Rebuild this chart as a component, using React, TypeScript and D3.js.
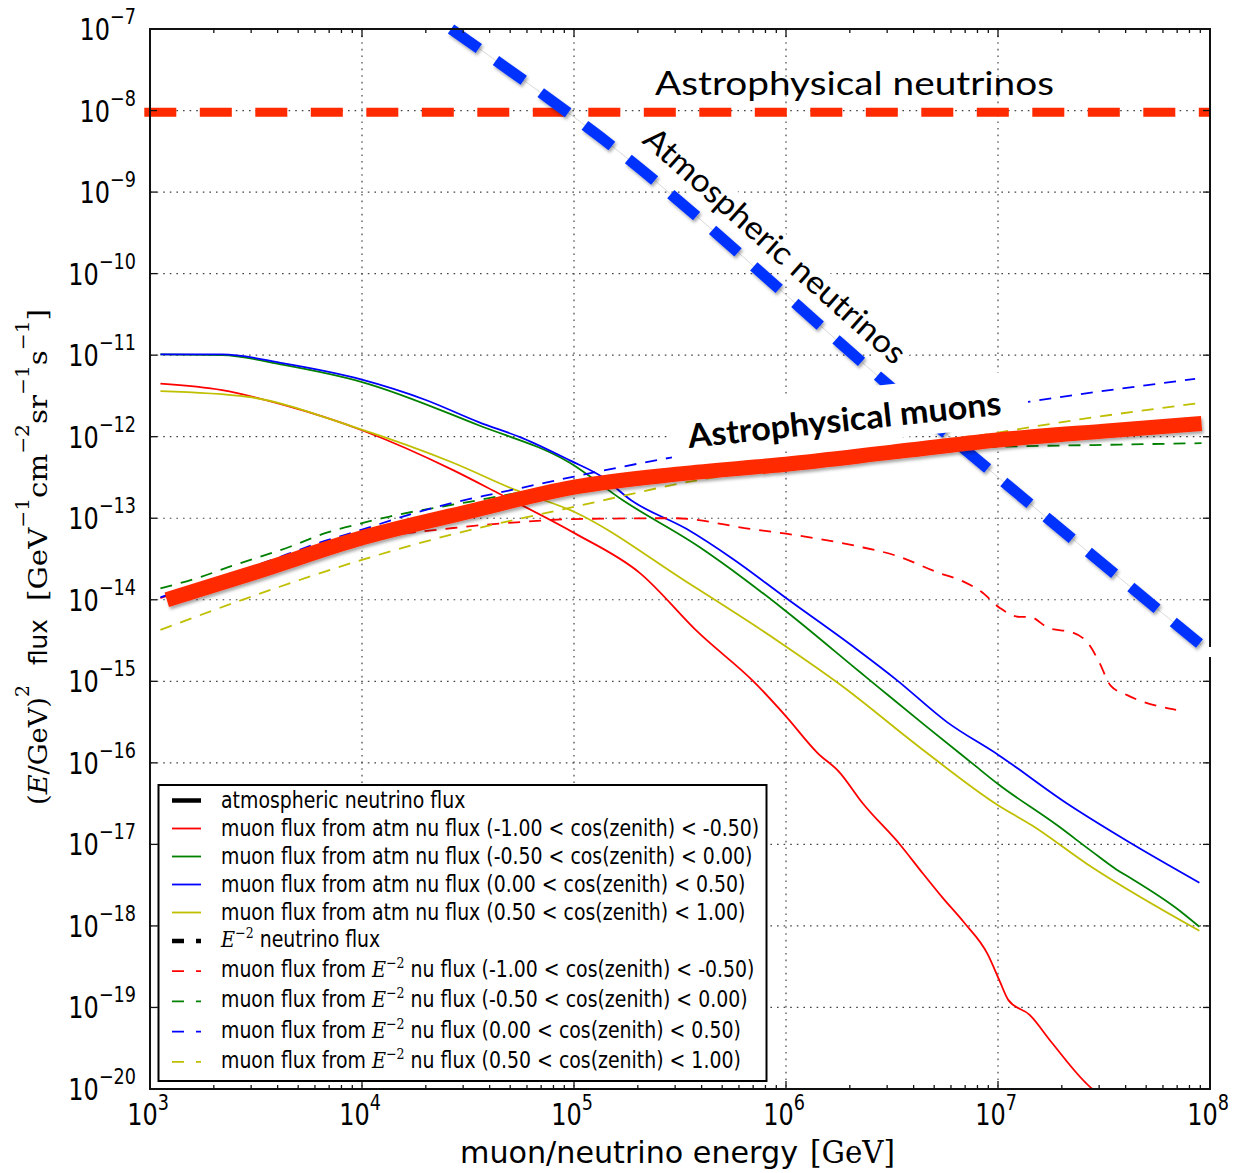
import React from "react";
import * as d3 from "d3";

type Pt = [number, number];

// energy [GeV], E^2 flux
const atmNu: Pt[] = [[2.63e4, 1e-7], [1.33e5, 4.74e-9], [3.45e6, 3.25e-12], [9.08e7, 2.79e-15]];
const astroNu: Pt[] = [[9.4e2, 9.5e-9], [1e8, 9.5e-9]];
const astroMu: Pt[] = [
  [1.2e3, 1e-14], [3.16e3, 2.19e-14], [1e4, 5.75e-14], [3.16e4, 1.2e-13], [1e5, 2.4e-13],
  [3.16e5, 3.5e-13], [1e6, 4.6e-13], [3.16e6, 6.46e-13], [1e7, 9.12e-13], [3.16e7, 1.17e-12], [9.12e7, 1.45e-12],
];

const atmMuRed: Pt[] = [
  [1.12e3, 4.47e-12], [2.19e3, 3.72e-12], [4.27e3, 2.45e-12], [1e4, 1.2e-12], [2.69e4, 3.89e-13],
  [4.37e4, 2.04e-13], [1e5, 6.61e-14], [2.04e5, 2.14e-14], [3.89e5, 3.89e-15], [7.08e5, 9.77e-16],
  [1e6, 3.72e-16], [1.41e6, 1.32e-16], [1.78e6, 7.76e-17], [2.29e6, 3.24e-17], [3.47e6, 9.77e-18],
  [4.37e6, 4.57e-18], [5.5e6, 2.19e-18], [6.92e6, 1.1e-18], [8.91e6, 4.57e-19], [1.02e7, 2.09e-19],
  [1.12e7, 1.23e-19], [1.41e7, 8.13e-20], [1.78e7, 3.8e-20], [2.82e7, 9.77e-21], [3.16e7, 8e-21],
];
const atmMuGreen: Pt[] = [
  [1.12e3, 1.02e-11], [2.19e3, 1e-11], [4.27e3, 7.59e-12], [1e4, 4.68e-12], [3.55e4, 1.38e-12],
  [9.55e4, 4.79e-13], [1.7e5, 1.66e-13], [3.89e5, 4.47e-14], [6.46e5, 1.74e-14], [1e6, 7.24e-15],
  [2.24e6, 1.29e-15], [2.75e6, 8.32e-16], [4.57e6, 2.82e-16], [7.59e6, 9.77e-17], [1e7, 5.5e-17],
  [1.91e7, 1.7e-17], [2.75e7, 8.32e-18], [3.63e7, 4.9e-18], [4.27e7, 3.8e-18], [6.92e7, 1.66e-18], [8.91e7, 9.77e-19],
];
const atmMuBlue: Pt[] = [
  [1.12e3, 1.02e-11], [2.19e3, 1.02e-11], [4.27e3, 7.94e-12], [1e4, 5.01e-12], [2e4, 2.82e-12],
  [3.55e4, 1.51e-12], [5.75e4, 9.55e-13], [9.55e4, 5.13e-13], [1.35e5, 3.24e-13], [1.86e5, 1.66e-13],
  [3.39e5, 7.41e-14], [5.62e5, 3.16e-14], [1e6, 1.05e-14], [2.14e6, 2.51e-15], [3.31e6, 1.05e-15],
  [5.75e6, 3.16e-16], [1e7, 1.26e-16], [2.09e7, 3.24e-17], [4.07e7, 1.1e-17], [8.91e7, 3.39e-18],
];
const atmMuYellow: Pt[] = [
  [1.12e3, 3.63e-12], [2.88e3, 3.09e-12], [9.12e3, 1.32e-12], [2.69e4, 4.79e-13], [5.25e4, 2.24e-13],
  [1e5, 1.2e-13], [3.39e5, 1.66e-14], [9.33e5, 3.02e-15], [1.78e6, 9.33e-16], [4.37e6, 1.48e-16],
  [1e7, 3.02e-17], [1.45e7, 1.7e-17], [2.63e7, 5.75e-18], [8.91e7, 8.71e-19],
];

const e2MuRed: Pt[] = [
  [1.12e3, 1.05e-14], [3.16e3, 2.4e-14], [1e4, 5.37e-14], [2.69e4, 7.59e-14], [5.37e4, 8.91e-14],
  [1e5, 9.77e-14], [2.95e5, 1e-13], [6.76e5, 7.41e-14], [1e6, 6.46e-14], [2.14e6, 4.57e-14],
  [3.31e6, 3.47e-14], [5.25e6, 2.14e-14], [6.92e6, 1.66e-14], [8.32e6, 1.26e-14], [1.02e7, 7.94e-15],
  [1.26e7, 6.17e-15], [1.41e7, 6.17e-15], [1.74e7, 4.47e-15], [2.24e7, 3.98e-15], [2.69e7, 2.82e-15],
  [3.02e7, 1.66e-15], [3.39e7, 8.91e-16], [4.07e7, 6.76e-16], [6.92e7, 4.47e-16],
];
const e2MuGreen: Pt[] = [
  [1.12e3, 1.38e-14], [1.74e3, 1.91e-14], [2.34e3, 2.51e-14], [4.57e3, 4.47e-14], [6.76e3, 6.61e-14],
  [1e4, 8.71e-14], [1.35e4, 1.05e-13], [3.16e4, 1.58e-13], [1e5, 2.69e-13], [3.16e5, 3.8e-13],
  [1e6, 5.13e-13], [3.16e6, 6.31e-13], [6.46e6, 7.24e-13], [3.16e7, 7.94e-13], [9.12e7, 8.32e-13],
];
const e2MuBlue: Pt[] = [
  [1.12e3, 1.07e-14], [1.82e3, 1.66e-14], [3.24e3, 2.69e-14], [6.31e3, 5.01e-14], [1e4, 7.24e-14],
  [1.66e4, 1.1e-13], [2.69e4, 1.55e-13], [4.37e4, 2.04e-13], [1e5, 3.24e-13], [2.82e5, 5.5e-13],
  [1e6, 9.12e-13], [3.16e6, 1.48e-12], [1e7, 2.34e-12], [1.41e7, 2.69e-12], [8.51e7, 5.13e-12],
];
const e2MuYellow: Pt[] = [
  [1.12e3, 4.27e-15], [2.88e3, 1.05e-14], [1e4, 3.09e-14], [2.95e4, 6.76e-14], [5.25e4, 9.55e-14],
  [1e5, 1.38e-13], [3.89e5, 2.95e-13], [9.77e5, 4.27e-13], [3.16e6, 7.08e-13], [1e7, 1.12e-12],
  [1.45e7, 1.32e-12], [8.71e7, 2.57e-12],
];

const xExponents = [3, 4, 5, 6, 7, 8];
const yExponents = [-7, -8, -9, -10, -11, -12, -13, -14, -15, -16, -17, -18, -19, -20];

const cosBins = [
  "(-1.00 < cos(zenith) < -0.50)",
  "(-0.50 < cos(zenith) < 0.00)",
  "(0.00 < cos(zenith) < 0.50)",
  "(0.50 < cos(zenith) < 1.00)",
];
const binColors = ["#ff0000", "#008000", "#0000ff", "#bfbf00"];
const atmSeries = [atmMuRed, atmMuGreen, atmMuBlue, atmMuYellow];
const e2Series = [e2MuRed, e2MuGreen, e2MuBlue, e2MuYellow];

const W = 1236;
const H = 1173;
const M = { top: 29, right: 26, bottom: 84, left: 150 };
const SANS = "DejaVu Sans";
const SERIF = "DejaVu Serif";
const CAL = "Lato, 'Open Sans', sans-serif";
const MINUS = "\u2212";

export default function App() {
  const x = d3.scaleLog().domain([1e3, 1e8]).range([M.left, W - M.right]);
  const y = d3.scaleLog().domain([1e-20, 1e-7]).range([H - M.bottom, M.top]);
  const line = d3
    .line<Pt>()
    .x((d) => x(d[0]))
    .y((d) => y(d[1]))
    .curve(d3.curveMonotoneX);

  const x0 = M.left, x1 = W - M.right, y0 = M.top, y1 = H - M.bottom;

  const majorX = xExponents.map((e) => Math.pow(10, e));
  const majorY = yExponents.map((e) => Math.pow(10, e));
  const minorX: number[] = [];
  xExponents.slice(0, -1).forEach((e) => {
    for (let k = 2; k < 10; k++) minorX.push(k * Math.pow(10, e));
  });

  // legend rows
  const legRowY = (i: number) => (i < 5 ? 800.5 + 28 * i : 941 + 30.2 * (i - 5));
  const lx0 = 172, lx1 = 201, ltx = 221;

  const legText = (i: number, y: number, content: React.ReactNode) => (
    <text key={"lt" + i} transform={`translate(${ltx},${y}) scale(0.84,1)`} fontFamily={SANS} fontSize={22.5} fill="#000">
      {content}
    </text>
  );
  const e2 = (
    <>
      <tspan fontFamily={SERIF} fontStyle="italic" fontSize={23}>E</tspan>
      <tspan fontFamily={SERIF} fontSize={15} dy={-9}>{MINUS + "2"}</tspan>
      <tspan dy={9}>{"  "}</tspan>
    </>
  );

  return (
    <svg width={W} height={H} style={{ position: "absolute", left: 0, top: 0, background: "#fff" }}>
      <defs>
        <clipPath id="plot">
          <rect x={x0} y={y0} width={x1 - x0} height={y1 - y0} />
        </clipPath>
        <filter id="shadow" x="-10%" y="-10%" width="120%" height="130%">
          <feDropShadow dx="1.5" dy="2.5" stdDeviation="1.6" floodColor="#000" floodOpacity="0.35" />
        </filter>
      </defs>
      <rect width={W} height={H} fill="#fff" />

      {/* grid */}
      <g stroke="#444" strokeWidth={1.2} strokeDasharray="1.6,5">
        {majorX.slice(1, -1).map((v) => (
          <line key={"gx" + v} x1={x(v)} x2={x(v)} y1={y0} y2={y1} />
        ))}
        {majorY.slice(1, -1).map((v) => (
          <line key={"gy" + v} x1={x0} x2={x1} y1={y(v)} y2={y(v)} />
        ))}
      </g>

      {/* thin muon curves */}
      <g clipPath="url(#plot)" fill="none">
        {atmSeries.map((s, i) => (
          <path key={"a" + i} d={line(s) || ""} stroke={binColors[i]} strokeWidth={1.8} />
        ))}
        {e2Series.map((s, i) => (
          <path key={"e" + i} d={line(s) || ""} stroke={binColors[i]} strokeWidth={1.8} strokeDasharray="12,9" />
        ))}
      </g>

      {/* astrophysical neutrinos */}
      <path d={line(astroNu) || ""} fill="none" stroke="#ff2a00" strokeWidth={9} strokeDasharray="32,23.5" />

      {/* atmospheric neutrinos label */}
      <g transform="translate(641,142) rotate(41.5)">
        <rect x={-4} y={-27} width={346} height={32} fill="#fff" />
        <text x={0} y={0} fontFamily={CAL} fontSize={32} textLength={338} lengthAdjust="spacingAndGlyphs" fill="#000">
          Atmospheric neutrinos
        </text>
      </g>

      {/* atmospheric neutrinos line */}
      <path d={line(atmNu) || ""} fill="none" stroke="#c8c8c8" strokeWidth={0.7} />
      <path
        d={line(atmNu) || ""}
        fill="none"
        stroke="#0433ff"
        strokeWidth={11}
        strokeDasharray="34,21"
        filter="url(#shadow)"
      />

      {/* astrophysical muons */}
      <g transform="translate(689,448) rotate(-6.1)">
        <rect x={-18} y={-42} width={360} height={54} fill="#fff" />
      </g>
      <path d={line(astroMu) || ""} fill="none" stroke="#ff2a00" strokeWidth={15} filter="url(#shadow)" />
      <g transform="translate(689,448) rotate(-6.1)">
        <text x={0} y={0} fontFamily={CAL} fontWeight={700} fontSize={33} textLength={315} lengthAdjust="spacingAndGlyphs" fill="#000">
          Astrophysical muons
        </text>
      </g>

      {/* frame and ticks */}
      <rect x={x0} y={y0} width={x1 - x0} height={y1 - y0} fill="none" stroke="#111" strokeWidth={2} />
      <g stroke="#111" strokeWidth={1.3}>
        {majorX.map((v) => (
          <g key={"tx" + v}>
            <line x1={x(v)} x2={x(v)} y1={y1} y2={y1 - 8} />
            <line x1={x(v)} x2={x(v)} y1={y0} y2={y0 + 8} />
          </g>
        ))}
        {minorX.map((v) => (
          <g key={"mx" + v}>
            <line x1={x(v)} x2={x(v)} y1={y1} y2={y1 - 4} />
            <line x1={x(v)} x2={x(v)} y1={y0} y2={y0 + 4} />
          </g>
        ))}
        {majorY.map((v) => (
          <g key={"ty" + v}>
            <line x1={x0} x2={x0 + 7} y1={y(v)} y2={y(v)} />
            <line x1={x1} x2={x1 - 7} y1={y(v)} y2={y(v)} />
          </g>
        ))}
      </g>
      <rect x={1206} y={647} width={9} height={10} fill="#fff" />

      {/* legend */}
      <rect x={158.5} y={785} width={608} height={296} fill="#fff" stroke="#000" strokeWidth={2} />
      <line x1={lx0} x2={lx1} y1={legRowY(0)} y2={legRowY(0)} stroke="#000" strokeWidth={4.5} />
      {legText(0, legRowY(0) + 7, "atmospheric neutrino flux")}
      {cosBins.map((b, i) => (
        <g key={"la" + i}>
          <line x1={lx0} x2={lx1} y1={legRowY(i + 1)} y2={legRowY(i + 1)} stroke={binColors[i]} strokeWidth={1.8} />
          {legText(i + 1, legRowY(i + 1) + 7, "muon flux from atm nu flux " + b)}
        </g>
      ))}
      <line x1={lx0} x2={lx1} y1={legRowY(5)} y2={legRowY(5)} stroke="#000" strokeWidth={4.5} strokeDasharray="12,12" />
      {legText(5, legRowY(5) + 6, <>{e2}<tspan>neutrino flux</tspan></>)}
      {cosBins.map((b, i) => (
        <g key={"le" + i}>
          <line x1={lx0} x2={lx1} y1={legRowY(i + 6)} y2={legRowY(i + 6)} stroke={binColors[i]} strokeWidth={1.8} strokeDasharray="12,12" />
          {legText(i + 6, legRowY(i + 6) + 6, <><tspan>muon flux from </tspan>{e2}<tspan>nu flux {b}</tspan></>)}
        </g>
      ))}

      {/* tick labels */}
      {xExponents.map((e) => (
        <text key={"xl" + e} transform={`translate(${x(Math.pow(10, e)) - 2},${y1 + 36}) scale(0.8,1)`} textAnchor="middle" fontFamily={SANS} fontSize={30} fill="#000">
          10<tspan fontSize={22} dy={-15}>{String(e)}</tspan>
        </text>
      ))}
      {yExponents.map((e) => (
        <text key={"yl" + e} transform={`translate(136,${y(Math.pow(10, e)) + 11}) scale(0.8,1)`} textAnchor="end" fontFamily={SANS} fontSize={30} fill="#000">
          10<tspan fontSize={22} dy={-16}>{MINUS + String(-e)}</tspan>
        </text>
      ))}

      {/* axis labels */}
      <text x={460} y={1163} fontFamily={SANS} fontSize={31} textLength={338} lengthAdjust="spacingAndGlyphs" fill="#000">
        muon/neutrino energy
      </text>
      <text x={810} y={1163} fontFamily={SERIF} fontSize={31} textLength={85} lengthAdjust="spacingAndGlyphs" fill="#000">
        [GeV]
      </text>

      <g fill="#000">
        <text transform="translate(46.5,805) rotate(-90) scale(1,0.9)" fontFamily={SERIF} fontSize={29} textLength={120} lengthAdjust="spacingAndGlyphs">
          (<tspan fontStyle="italic">E</tspan>/GeV)<tspan fontSize={20} dy={-19}>2</tspan>
        </text>
        <text transform="translate(46.5,665) rotate(-90) scale(1,0.9)" fontFamily={SANS} fontSize={27} textLength={46} lengthAdjust="spacingAndGlyphs">
          flux
        </text>
        <text transform="translate(46.5,601) rotate(-90) scale(1,0.9)" fontFamily={SERIF} fontSize={29} textLength={292} lengthAdjust="spacingAndGlyphs">
          [GeV<tspan fontSize={20} dy={-19}>{MINUS + "1"}</tspan>
          <tspan dy={19}>cm</tspan>
          <tspan fontSize={20} dy={-19}>{MINUS + "2"}</tspan>
          <tspan dy={19}>sr</tspan>
          <tspan fontSize={20} dy={-19}>{MINUS + "1"}</tspan>
          <tspan dy={19}>s</tspan>
          <tspan fontSize={20} dy={-19}>{MINUS + "1"}</tspan>
          <tspan dy={19}>]</tspan>
        </text>
      </g>

      <text x={655} y={95} fontFamily={CAL} fontSize={33} textLength={399} lengthAdjust="spacingAndGlyphs" fill="#000">
        Astrophysical neutrinos
      </text>
    </svg>
  );
}
